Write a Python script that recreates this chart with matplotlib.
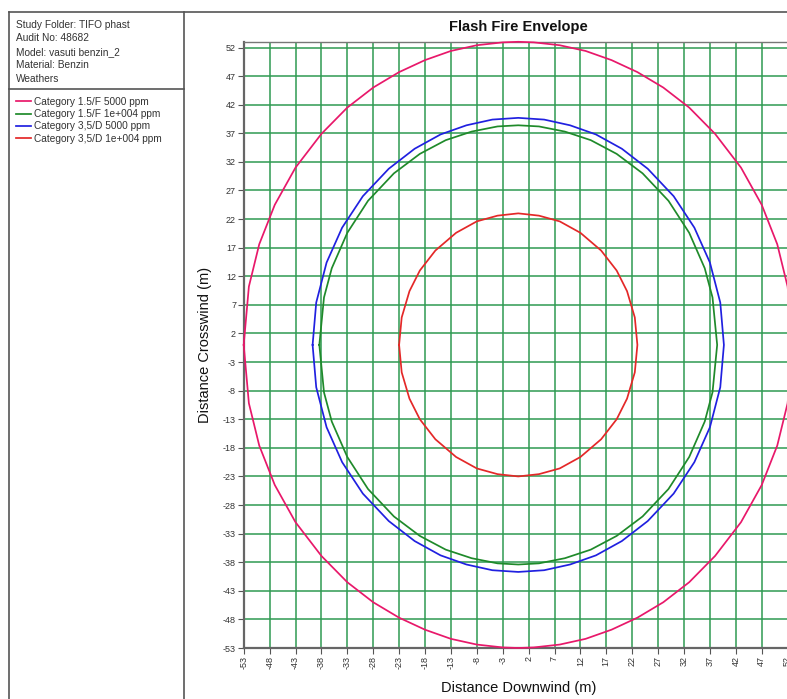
import matplotlib
matplotlib.use("Agg")
import matplotlib.pyplot as plt
from matplotlib.lines import Line2D

plt.rcParams['font.family'] = ['Liberation Sans', 'DejaVu Sans']

# ---- data (downwind x, crosswind half-width y; envelopes are symmetric) ----
series_names = ["Category 1.5/F 5000 ppm", "Category 1.5/F 1e+004 ppm",
                "Category 3,5/D 5000 ppm", "Category 3,5/D 1e+004 ppm"]
series_colors = ["#e8186a", "#1f8a2a", "#2020e0", "#e42828"]

pink_x = [-53, -52, -50, -47, -43, -38, -33, -28, -23, -18, -13, -8, -3, 0,
          3, 8, 13, 18, 23, 28, 33, 38, 43, 47, 50, 52, 53]
pink_y = [0, 10.2, 17.6, 24.5, 31.0, 36.9, 41.5, 45.0, 47.7, 49.8, 51.4, 52.4, 52.9, 53.0,
          52.9, 52.4, 51.4, 49.8, 47.7, 45.0, 41.5, 36.9, 31.0, 24.5, 17.6, 10.2, 0]

green_x = [-38.4, -37.5, -36, -33, -29, -24, -19, -14, -9, -4, 0,
           4, 9, 14, 19, 24, 29, 33, 36, 37.5, 38.4]
green_y = [0, 8.3, 13.4, 19.6, 25.2, 30.0, 33.4, 35.8, 37.3, 38.2, 38.4,
           38.2, 37.3, 35.8, 33.4, 30.0, 25.2, 19.6, 13.4, 8.3, 0]

blue_x = [-39.7, -39, -37, -34, -30, -25, -20, -15, -10, -5, 0,
          5, 10, 15, 20, 25, 30, 34, 37, 39, 39.7]
blue_y = [0, 7.4, 14.4, 20.5, 26.0, 30.8, 34.3, 36.8, 38.4, 39.4, 39.7,
          39.4, 38.4, 36.8, 34.3, 30.8, 26.0, 20.5, 14.4, 7.4, 0]

red_x = [-23, -22.5, -21, -19, -16, -12, -8, -4, 0,
         4, 8, 12, 16, 19, 21, 22.5, 23]
red_y = [0, 4.8, 9.4, 13.0, 16.5, 19.6, 21.6, 22.6, 23.0,
         22.6, 21.6, 19.6, 16.5, 13.0, 9.4, 4.8, 0]

tick_values = list(range(-53, 53, 5))
tick_labels = [str(v) for v in tick_values]

header_lines = ["Study Folder: TIFO phast", "Audit No: 48682",
                "Model: vasuti benzin_2", "Material: Benzin", "Weathers"]

W, H = 787, 699
fig = plt.figure(figsize=(W / 100, H / 100), dpi=100)
fig.patch.set_facecolor("white")

def fx(px):
    return px / W

def fy(py):
    return 1 - py / H

# axes placement (right part is cropped by the figure edge as in the reference)
ax_left, ax_right, ax_top, ax_bottom = 243.7, 792.8, 41.8, 648.0
ax = fig.add_axes([fx(ax_left), fy(ax_bottom), fx(ax_right - ax_left), (ax_bottom - ax_top) / H])

handles = []
for xs, ys, name, col in zip([pink_x, green_x, blue_x, red_x],
                             [pink_y, green_y, blue_y, red_y],
                             series_names, series_colors):
    full_x = list(xs) + list(xs[::-1])
    full_y = list(ys) + [-v for v in ys[::-1]]
    ln, = ax.plot(full_x, full_y, color=col, lw=1.25, label=name, clip_on=False, zorder=3)
    handles.append(ln)

ax.set_xlim(-53, 53)
ax.set_ylim(-53, 53)
ax.set_xticks(tick_values)
ax.set_yticks(tick_values)
ax.set_xticklabels(tick_labels, rotation=90)
ax.set_yticklabels(tick_labels)
ax.tick_params(axis='both', labelsize=6.5, labelcolor="#333333", color="#555555",
               length=4, width=0.8, direction='out', pad=1.5)
ax.set_axisbelow(True)
ax.grid(True, color="#2f9a52", lw=1.1)
for s in ["left", "bottom"]:
    ax.spines[s].set_color("#666666")
    ax.spines[s].set_linewidth(1.6)
for s in ["top", "right"]:
    ax.spines[s].set_color("#777777")
    ax.spines[s].set_linewidth(1.0)

ax.set_xlabel("Distance Downwind (m)", fontsize=10.5, labelpad=9, color="#111111")
ax.set_ylabel("Distance Crosswind (m)", fontsize=10.5, labelpad=8, color="#111111")
fig.text(fx(518), fy(27), "Flash Fire Envelope", fontsize=10.5, fontweight="bold",
         ha="center", va="center", color="#111111")

# frame lines of the report panel
frame_col = "#555555"
fig.add_artist(Line2D([fx(9), fx(787)], [fy(11.5), fy(11.5)], color=frame_col, lw=1.2))
fig.add_artist(Line2D([fx(9), fx(9)], [fy(11.5), fy(699)], color=frame_col, lw=1.2))
fig.add_artist(Line2D([fx(183.5), fx(183.5)], [fy(11.5), fy(699)], color=frame_col, lw=1.2))
fig.add_artist(Line2D([fx(9), fx(183.5)], [fy(89), fy(89)], color=frame_col, lw=1.2))

for i, t in enumerate(header_lines):
    fig.text(fx(16), fy(25 + i * 13.4), t, fontsize=7.3, ha="left", va="center", color="#333333")

fig.legend(handles=handles, labels=series_names, loc="upper left",
           bbox_to_anchor=(fx(16), fy(97)), frameon=False, fontsize=7.3,
           handlelength=1.5, handletextpad=0.3, labelspacing=0.22,
           borderaxespad=0, borderpad=0, labelcolor="#333333")

fig.savefig("out.png", dpi=100, facecolor="white")
